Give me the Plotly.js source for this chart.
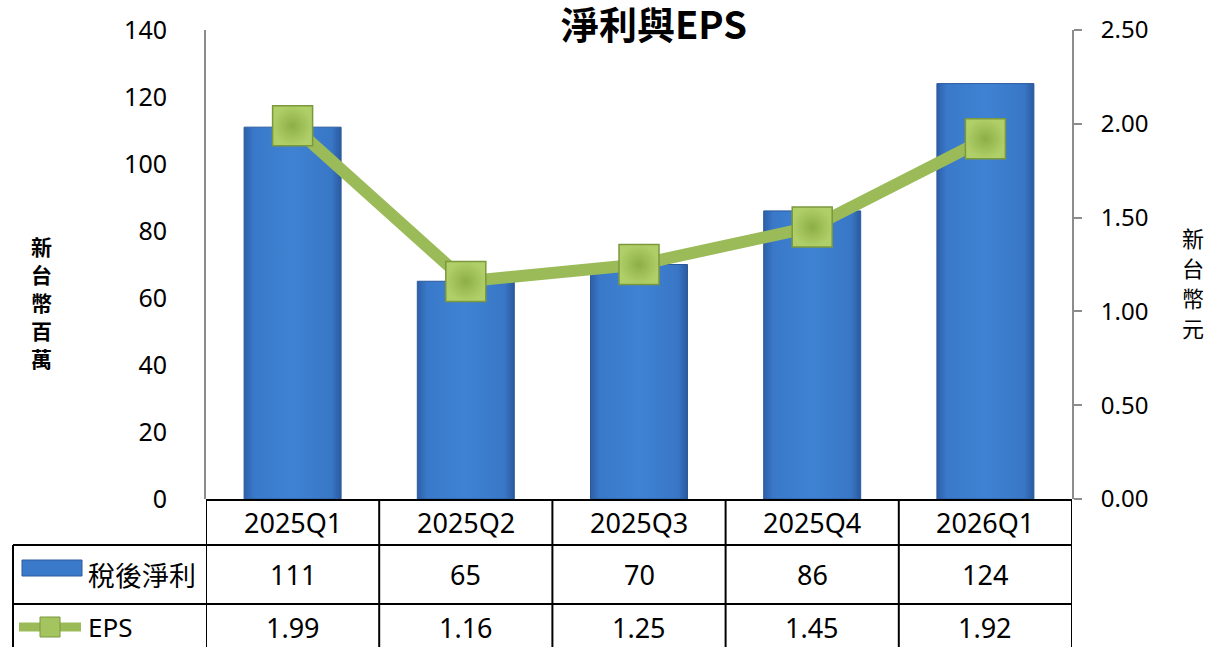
<!DOCTYPE html>
<html>
<head>
<meta charset="utf-8">
<script src="https://cdn.plot.ly/plotly-3.0.1.min.js"></script>
<style>
  html, body { margin: 0; padding: 0; background: #fff; }
  #chart { width: 1213px; height: 647px; }
</style>
</head>
<body>
<div id="chart"></div>
<script>
// Quarterly net profit (NT$ million) and EPS (NT$)
const quarters = ['2025Q1', '2025Q2', '2025Q3', '2025Q4', '2026Q1'];
const netProfit = [111, 65, 70, 86, 124];
const eps = [1.99, 1.16, 1.25, 1.45, 1.92];

const seriesNames = ['稅後淨利', 'EPS'];
const chartTitle = '淨利與EPS';
const leftAxisTitle = '新台幣百萬';
const rightAxisTitle = '新台幣元';

const FONT = 'Noto Sans, Noto Sans CJK TC, sans-serif';
const CJK = 'Noto Sans CJK TC, Noto Sans, sans-serif';
const BAR_BLUE = '#3b7acb';
const GREEN = '#9bbb59';
const AXIS_GREY = '#8c8c8c';

// Plot-area geometry in pixels, used to place the data table under the axis
const W = 1213, H = 647;
const M = { l: 206, r: 141, t: 30, b: 148 };
const plotH = H - M.t - M.b;
const plotW = W - M.l - M.r;
const py = (pix) => (H - M.b - pix) / plotH;   // pixel row -> paper y
const px = (pix) => (pix - M.l) / plotW;       // pixel column -> paper x

const traces = [
  {
    type: 'bar',
    name: seriesNames[0],
    x: quarters,
    y: netProfit,
    marker: { color: BAR_BLUE, line: { color: '#2b5a9c', width: 1 } },
    hoverinfo: 'x+y',
    showlegend: false
  },
  {
    type: 'scatter',
    mode: 'lines+markers',
    name: seriesNames[1],
    x: quarters,
    y: eps,
    yaxis: 'y2',
    line: { color: GREEN, width: 12 },
    marker: {
      symbol: 'square',
      size: 40,
      color: '#b0cf68',
      gradient: { type: 'radial', color: '#8dae46' },
      line: { color: '#7b983c', width: 1.5 }
    },
    showlegend: false
  }
];

const shapes = [];
const annotations = [];
const BORDER = { color: '#000', width: 2 };

// Table grid: horizontal rules
shapes.push({ type: 'line', xref: 'paper', yref: 'paper', x0: 0, x1: 1, y0: py(500), y1: py(500), line: BORDER });
[545, 604].forEach(r => {
  shapes.push({ type: 'line', xref: 'paper', yref: 'paper', x0: px(13), x1: 1, y0: py(r), y1: py(r), line: BORDER });
});
// Table grid: vertical rules at category boundaries
for (let i = 0; i <= quarters.length; i++) {
  shapes.push({ type: 'line', xref: 'x', yref: 'paper', x0: i - 0.5, x1: i - 0.5, y0: py(500), y1: py(660), line: BORDER });
}
// Left edge of the series-name column
shapes.push({ type: 'line', xref: 'paper', yref: 'paper', x0: px(13), x1: px(13), y0: py(545), y1: py(660), line: BORDER });

// Legend keys inside the table
shapes.push({
  type: 'rect', xref: 'paper', yref: 'paper',
  x0: px(22), x1: px(82), y0: py(560), y1: py(576),
  fillcolor: BAR_BLUE, line: { color: '#2b5a9c', width: 1 }
});
shapes.push({
  type: 'line', xref: 'paper', yref: 'paper',
  x0: px(19), x1: px(81), y0: py(627), y1: py(627),
  line: { color: GREEN, width: 9 }
});
shapes.push({
  type: 'rect', xref: 'paper', yref: 'paper',
  x0: px(40), x1: px(60), y0: py(617), y1: py(637),
  fillcolor: '#a4c45f', line: { color: '#7b983c', width: 1 }
});

// Table text
const cellFont = { family: FONT, size: 27, color: '#000' };
quarters.forEach((q, i) => {
  annotations.push({ xref: 'x', yref: 'paper', x: q, y: py(522), text: q, showarrow: false, font: cellFont, xanchor: 'center', yanchor: 'middle' });
  annotations.push({ xref: 'x', yref: 'paper', x: q, y: py(574), text: String(netProfit[i]), showarrow: false, font: cellFont, xanchor: 'center', yanchor: 'middle' });
  annotations.push({ xref: 'x', yref: 'paper', x: q, y: py(627), text: eps[i].toFixed(2), showarrow: false, font: cellFont, xanchor: 'center', yanchor: 'middle' });
});
annotations.push({ xref: 'paper', yref: 'paper', x: px(86), y: py(574), text: seriesNames[0], showarrow: false, xanchor: 'left', yanchor: 'middle', font: { family: CJK, size: 27, color: '#000' } });
annotations.push({ xref: 'paper', yref: 'paper', x: px(86), y: py(627), text: seriesNames[1], showarrow: false, xanchor: 'left', yanchor: 'middle', font: { family: FONT, size: 26, color: '#000' } });

// Vertical axis titles, one character per row
leftAxisTitle.split('').forEach((ch, k) => {
  annotations.push({
    xref: 'paper', yref: 'paper', x: px(41), y: py(246 + k * 28),
    text: '<b>' + ch + '</b>', showarrow: false,
    xanchor: 'center', yanchor: 'middle', font: { family: CJK, size: 21, color: '#000' }
  });
});
rightAxisTitle.split('').forEach((ch, k) => {
  annotations.push({
    xref: 'paper', yref: 'paper', x: px(1193), y: py(237 + k * 30),
    text: ch, showarrow: false,
    xanchor: 'center', yanchor: 'middle', font: { family: CJK, size: 22, color: '#000' }
  });
});

const layout = {
  width: W,
  height: H,
  autosize: false,
  margin: M,
  paper_bgcolor: '#fff',
  plot_bgcolor: '#fff',
  font: { family: FONT, color: '#000' },
  title: {
    text: '<b>' + chartTitle + '</b>',
    font: { family: CJK, size: 38, color: '#000' },
    xref: 'container', x: 654 / W, xanchor: 'center',
    yref: 'container', y: 1 - 26 / H, yanchor: 'middle'
  },
  bargap: 0.44,
  showlegend: false,
  xaxis: {
    type: 'category',
    range: [-0.5, quarters.length - 0.5],
    showticklabels: false,
    showline: false,
    showgrid: false,
    zeroline: false,
    ticks: ''
  },
  yaxis: {
    range: [0, 140],
    dtick: 20,
    tick0: 0,
    showgrid: false,
    zeroline: false,
    showline: true,
    linecolor: AXIS_GREY,
    linewidth: 2,
    ticks: '',
    ticklabelstandoff: 32,
    tickfont: { family: FONT, size: 25, color: '#000' }
  },
  yaxis2: {
    overlaying: 'y',
    side: 'right',
    range: [0, 2.5],
    dtick: 0.5,
    tick0: 0,
    tickformat: '.2f',
    showgrid: false,
    zeroline: false,
    showline: true,
    linecolor: AXIS_GREY,
    linewidth: 2,
    ticks: 'outside',
    ticklen: 8,
    tickwidth: 2,
    tickcolor: AXIS_GREY,
    ticklabelstandoff: 14,
    tickfont: { family: FONT, size: 24, color: '#000' }
  },
  shapes: shapes,
  annotations: annotations
};

Plotly.newPlot('chart', traces, layout, { displayModeBar: false, staticPlot: true }).then(gd => {
  // Give the bars a soft horizontal shading
  const svg = gd.querySelector('.main-svg');
  const NS = 'http://www.w3.org/2000/svg';
  let defs = svg.querySelector('defs');
  if (!defs) { defs = document.createElementNS(NS, 'defs'); svg.insertBefore(defs, svg.firstChild); }
  const grad = document.createElementNS(NS, 'linearGradient');
  grad.setAttribute('id', 'barShade');
  grad.setAttribute('x1', '0'); grad.setAttribute('y1', '0');
  grad.setAttribute('x2', '1'); grad.setAttribute('y2', '0');
  [['0', '#2c5fa9'], ['0.1', '#3a79c9'], ['0.5', '#3f82d3'], ['0.9', '#3977c6'], ['1', '#2a5a9f']].forEach(([o, c]) => {
    const s = document.createElementNS(NS, 'stop');
    s.setAttribute('offset', o); s.setAttribute('stop-color', c);
    grad.appendChild(s);
  });
  defs.appendChild(grad);
  gd.querySelectorAll('.barlayer .point path').forEach(p => { p.style.fill = 'url(#barShade)'; });
});
</script>
</body>
</html>
